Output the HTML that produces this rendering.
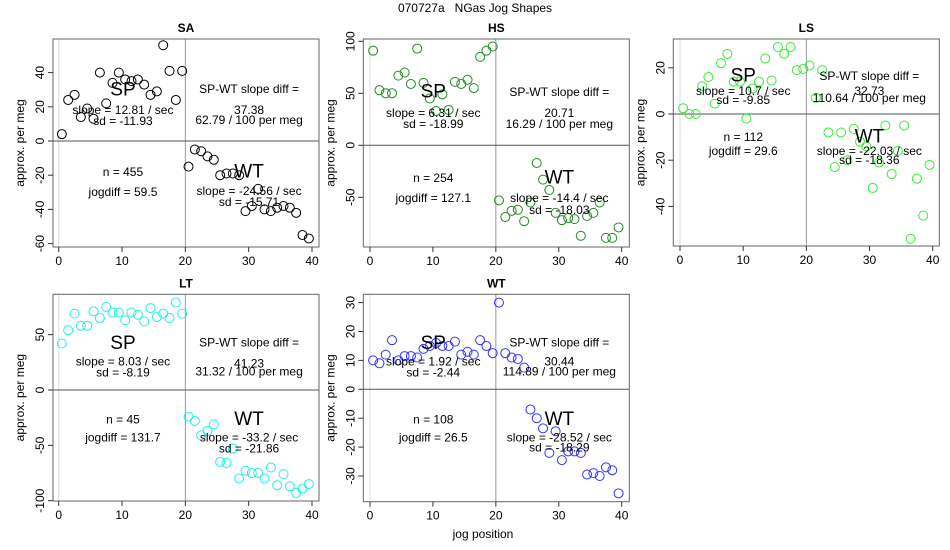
<!DOCTYPE html>
<html><head><meta charset="utf-8"><style>
body{margin:0;background:#fff}
svg{display:block;font-family:"Liberation Sans",sans-serif}
</style></head><body>
<svg id="c" width="950" height="550" viewBox="0 0 950 550">
<text x="475" y="12" text-anchor="middle" font-size="12" style="white-space:pre">070727a   NGas Jog Shapes</text>
<text x="483" y="538" text-anchor="middle" font-size="12">jog position</text>
</svg>
<script>
const panelNames=["SA","HS","LS","LT","WT"];
const saVals=[4,24,27,14,19,13,40,22,34,40,36,35,36,33,27,29,56,41,24,41,-15,-5,-6,-9,-11,-20,-19,-19,-20,-41,-38,-28,-40,-41,-39,-38,-39,-42,-55,-57];
const hsVals=[91,53,50,50,67,70,59,93,60,45,33,49,34,61,59,63,55,85,91,95,-53,-69,-63,-62,-73,-55,-17,-33,-43,-65,-72,-70,-71,-87,-68,-65,-55,-89,-89,-79];
const lsVals=[2.5,0,0,12,16,4.5,22,26,14,14,-2,11,14,24,14.5,29,26,29,19,19.5,21,7,19,-8,-23,-8,-20,-6.5,-12,-14,-32,-21,-5,-26,-16,-5,-54,-28,-44,-22];
const ltVals=[42,54,69,58,58,71,65,75,70,70,63,70,68,62,74,66,69,65,79,69,-24,-28,-41,-37,-31,-65,-66,-53,-80,-73,-75,-75,-80,-70,-86,-76,-87,-93,-89,-85];
const wtVals=[10,9,12,17,10,11.5,11.5,11,14,15,16,15,15,16.5,12,13,12,17,15,12.5,30,12.5,11,10.5,7.5,-7,-10,-13.5,-22,-14.5,-24.5,-21.5,-21.5,-22,-29.5,-29,-30,-27,-28,-36];
const xTicks=[0,10,20,30,40];
const saTicks=[-60,-40,-20,0,20,40];
const hsTicks=[-50,0,50,100];
const lsTicks=[-40,-20,0,20];
const ltTicks=[-100,-50,0,50];
const wtTicks=[-30,-20,-10,0,10,20,30];
const spSlope=["12.81","6.31","10.7","8.03","1.92"];
const spSd=["-11.93","-18.99","-9.85","-8.19","-2.44"];
const diffVals=["37.38","20.71","32.73","41.23","30.44"];
const perMeg=["62.79","16.29","110.64","31.32","114.89"];
const nVals=["455","254","112","45","108"];
const jogdiff=["59.5","127.1","29.6","131.7","26.5"];
const wtSlope=["-24.56","-14.4","-22.03","-33.2","-28.52"];
const wtSd=["-15.71","-18.03","-18.36","-21.86","-18.29"];

const svg=document.getElementById('c');
const NS="http://www.w3.org/2000/svg";
function mk(tag,a,p){const e=document.createElementNS(NS,tag);for(const k in a)e.setAttribute(k,a[k]);(p||svg).appendChild(e);return e;}
function txt(x,y,s,size,p,extra){const e=mk('text',Object.assign({x:x,y:y,'text-anchor':'middle','dominant-baseline':'central','font-size':size},extra||{}),p);e.textContent=s;return e;}

const panels=[
 {vals:saVals,ticks:saTicks,color:"#000",box:[53,39,319,247],x0:58.7,x40:312,y0:141,yk:1.71,ty:[51,71,82,50,71,81,133,153,133,152,163]},
 {vals:hsVals,ticks:hsTicks,color:"#228b22",box:[363.3,39,629.3,247],x0:370,x40:621.7,y0:145.3,yk:1.04,ty:[53,74,85,53,74,85,139,159,139,159,171]},
 {vals:lsVals,ticks:lsTicks,color:"#33ee33",box:[673.3,39,939.3,246],x0:680,x40:932.7,y0:114,yk:2.31,ty:[37,52,61,37,52,59,98,112,98,112,121]},
 {vals:ltVals,ticks:ltTicks,color:"#22eeee",box:[53,294.3,319,501],x0:58.7,x40:312,y0:390,yk:1.107,ty:[49,67,78,48,69,77,125,143,125,143,154]},
 {vals:wtVals,ticks:wtTicks,color:"#3333ff",box:[363.3,294.3,629.3,501.7],x0:370,x40:621.7,y0:389.3,yk:2.89,ty:[49,67,78,48,67,77,125,143,125,143,153]}
];

panels.forEach((P,i)=>{
 const g=mk('g',{});
 
 
 const [l,t,r,b]=P.box;
 const X=v=>P.x0+(P.x40-P.x0)*v/40;
 const Y=v=>P.y0-P.yk*v;
 mk('line',{x1:X(0),x2:X(0),y1:t,y2:b,stroke:'#ddd','stroke-width':1},g);
 mk('line',{x1:X(20),x2:X(20),y1:t,y2:b,stroke:'#999','stroke-width':1},g);
 mk('line',{x1:l,x2:r,y1:Y(0),y2:Y(0),stroke:'#555','stroke-width':1},g);
 const box=mk('rect',{x:l,y:t,width:r-l,height:b-t,fill:'none',stroke:'#666','stroke-width':1},g);
 
 
 const tt=txt((l+r)/2,t-11,panelNames[i],12,g,{'font-weight':'bold'});
 
 
 xTicks.forEach(v=>{mk('line',{x1:X(v),x2:X(v),y1:b,y2:b+5,stroke:'#333'},g);txt(X(v),b+14,String(v),12,g);});
 P.ticks.forEach(v=>{mk('line',{x1:l,x2:l-5,y1:Y(v),y2:Y(v),stroke:'#333'},g);
  txt(l-13,Y(v),String(v),12,g,{transform:`rotate(-90 ${l-13} ${Y(v)})`});});
 const yt=txt(l-33,(t+b)/2,'approx. per meg',12,g,{transform:`rotate(-90 ${l-33} ${(t+b)/2})`});
 
 
 P.vals.forEach((v,k)=>{
  if(v===null)return;
  const c=mk('circle',{cx:X(k+0.5),cy:Y(v),r:4.5,fill:'none',stroke:P.color,'stroke-width':1},g);
  
  
 });
 const cl=l+(r-l)*0.263, cr=l+(r-l)*0.737, o=P.ty;
 txt(cl,t+o[0],'SP',19,g);
 txt(cl,t+o[1],'slope = '+spSlope[i]+' / sec',12,g);
 txt(cl,t+o[2],'sd = '+spSd[i],12,g);
 txt(cr,t+o[3],'SP-WT slope diff =',12,g);
 txt(cr,t+o[4],diffVals[i],12,g);
 txt(cr,t+o[5],perMeg[i]+' / 100 per meg',12,g);
 txt(cl,t+o[6],'n = '+nVals[i],12,g);
 txt(cl,t+o[7],'jogdiff = '+jogdiff[i],12,g);
 txt(cr,t+o[8],'WT',19,g);
 txt(cr,t+o[9],'slope = '+wtSlope[i]+' / sec',12,g);
 txt(cr,t+o[10],'sd = '+wtSd[i],12,g);
});
</script>
</body></html>
